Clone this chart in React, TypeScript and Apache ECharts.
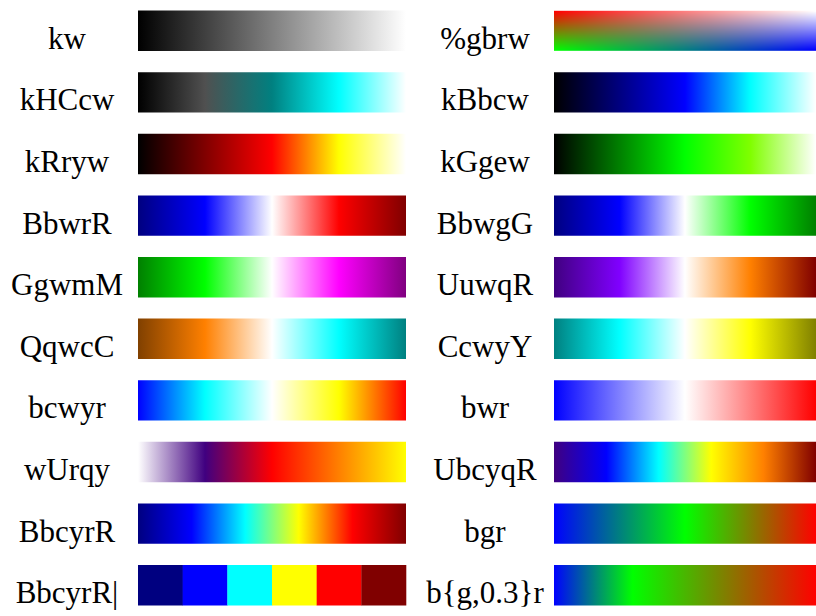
import React, { useEffect, useRef } from "react";
import * as echarts from "echarts";

// ---- category names (tick labels) ----
const leftNames = ["kw", "kHCcw", "kRryw", "BbwrR", "GgwmM", "QqwcC", "bcwyr", "wUrqy", "BbcyrR", "BbcyrR|"];
const rightNames = ["%gbrw", "kBbcw", "kGgew", "BbwgG", "UuwqR", "CcwyY", "bwr", "UbcyqR", "bgr", "b{g,0.3}r"];

// ---- colormap colour stops (left column) ----
const kw = ["#000000", "#ffffff"];
const kHCcw = ["#000000", "#505050", "#008080", "#00ffff", "#ffffff"];
const kRryw = ["#000000", "#800000", "#ff0000", "#ffff00", "#ffffff"];
const BbwrR = ["#000080", "#0000ff", "#ffffff", "#ff0000", "#800000"];
const GgwmM = ["#008000", "#00ff00", "#ffffff", "#ff00ff", "#800080"];
const QqwcC = ["#804000", "#ff8000", "#ffffff", "#00ffff", "#008080"];
const bcwyr = ["#0000ff", "#00ffff", "#ffffff", "#ffff00", "#ff0000"];
const wUrqy = ["#ffffff", "#400080", "#ff0000", "#ff8000", "#ffff00"];
const BbcyrR = ["#000080", "#0000ff", "#00ffff", "#ffff00", "#ff0000", "#800000"];
const BbcyrRDiscrete = ["#000080", "#0000ff", "#00ffff", "#ffff00", "#ff0000", "#800000"];

// ---- colormap colour stops (right column) ----
// corners of the 2-D map: top-left, top-right, bottom-left, bottom-right
const gbrwCorners = ["#ff0000", "#ffffff", "#00ff00", "#0000ff"];
const kBbcw = ["#000000", "#000080", "#0000ff", "#00ffff", "#ffffff"];
const kGgew = ["#000000", "#008000", "#00ff00", "#80ff00", "#ffffff"];
const BbwgG = ["#000080", "#0000ff", "#ffffff", "#00ff00", "#008000"];
const UuwqR = ["#400080", "#8000ff", "#ffffff", "#ff8000", "#800000"];
const CcwyY = ["#008080", "#00ffff", "#ffffff", "#ffff00", "#808000"];
const bwr = ["#0000ff", "#ffffff", "#ff0000"];
const UbcyqR = ["#400080", "#0000ff", "#00ffff", "#ffff00", "#ff8000", "#800000"];
const bgr = ["#0000ff", "#00ff00", "#ff0000"];
const bg03r = ["#0000ff", "#00ff00", "#ff0000"];
const bg03rPositions = [0, 0.3, 1];

type CMap = { colors: string[]; mode: "linear" | "discrete" | "bilinear"; positions?: number[] };

const leftMaps: CMap[] = [
  { colors: kw, mode: "linear" },
  { colors: kHCcw, mode: "linear" },
  { colors: kRryw, mode: "linear" },
  { colors: BbwrR, mode: "linear" },
  { colors: GgwmM, mode: "linear" },
  { colors: QqwcC, mode: "linear" },
  { colors: bcwyr, mode: "linear" },
  { colors: wUrqy, mode: "linear" },
  { colors: BbcyrR, mode: "linear" },
  { colors: BbcyrRDiscrete, mode: "discrete" },
];
const rightMaps: CMap[] = [
  { colors: gbrwCorners, mode: "bilinear" },
  { colors: kBbcw, mode: "linear" },
  { colors: kGgew, mode: "linear" },
  { colors: BbwgG, mode: "linear" },
  { colors: UuwqR, mode: "linear" },
  { colors: CcwyY, mode: "linear" },
  { colors: bwr, mode: "linear" },
  { colors: UbcyqR, mode: "linear" },
  { colors: bgr, mode: "linear" },
  { colors: bg03r, mode: "linear", positions: bg03rPositions },
];

// each bar spans the full 0..1 range of its colormap
const barStart = 0;
const barEnd = 1;

function hexToRgb(h: string): number[] {
  const v = parseInt(h.slice(1), 16);
  return [(v >> 16) & 255, (v >> 8) & 255, v & 255];
}

// renders a 2-D (bilinear) colormap into a bitmap, returned as a data URL
const bilinearCache: Record<string, string> = {};
function bilinearImage(corners: string[], W: number, H: number): string {
  const key = corners.join(",") + W + "x" + H;
  if (bilinearCache[key]) return bilinearCache[key];
  const [tl, tr, bl, br] = corners.map(hexToRgb);
  const cv = document.createElement("canvas");
  cv.width = W;
  cv.height = H;
  const ctx = cv.getContext("2d")!;
  const img = ctx.createImageData(W, H);
  for (let j = 0; j < H; j++) {
    const v = H > 1 ? j / (H - 1) : 0;
    for (let i = 0; i < W; i++) {
      const u = W > 1 ? i / (W - 1) : 0;
      const o = (j * W + i) * 4;
      for (let c = 0; c < 3; c++) {
        const top = tl[c] + (tr[c] - tl[c]) * u;
        const bot = bl[c] + (br[c] - bl[c]) * u;
        img.data[o + c] = Math.round(top + (bot - top) * v);
      }
      img.data[o + 3] = 255;
    }
  }
  ctx.putImageData(img, 0, 0);
  const url = cv.toDataURL("image/png");
  bilinearCache[key] = url;
  return url;
}

function makeRender(maps: CMap[]) {
  return (params: any, api: any) => {
    const ci = api.value(0) as number;
    const p0 = api.coord([api.value(1), ci]);
    const p1 = api.coord([api.value(2), ci]);
    const band = api.size([0, 1])[1];
    const h = band * 0.656;
    const x = p0[0];
    const w = p1[0] - p0[0];
    const y = p0[1] - h / 2;
    const m = maps[ci];
    const children: any[] = [];
    if (m.mode === "linear") {
      const n = m.colors.length;
      const stops = m.colors.map((c, i) => ({
        offset: m.positions ? m.positions[i] : i / (n - 1),
        color: c,
      }));
      children.push({
        type: "rect",
        shape: { x, y, width: w, height: h },
        style: { fill: { type: "linear", x: 0, y: 0, x2: 1, y2: 0, colorStops: stops } },
      });
    } else if (m.mode === "discrete") {
      const n = m.colors.length;
      m.colors.forEach((c, i) => {
        children.push({
          type: "rect",
          shape: { x: x + (w * i) / n, y, width: w / n + 0.3, height: h },
          style: { fill: c },
        });
      });
    } else {
      const W = Math.max(2, Math.round(w));
      const H = Math.max(2, Math.round(h));
      children.push({
        type: "image",
        style: { image: bilinearImage(m.colors, W, H), x, y, width: w, height: h },
      });
    }
    return { type: "group", children };
  };
}

export default function App() {
  const ref = useRef<HTMLDivElement>(null);
  useEffect(() => {
    if (!ref.current) return;
    const chart = echarts.init(ref.current, undefined, { renderer: "svg" });
    const gridTop = -1.75;
    const gridH = 625;
    chart.setOption({
      animation: false,
      backgroundColor: "#ffffff",
      grid: [
        { left: 138, top: gridTop, width: 268, height: gridH },
        { left: 554, top: gridTop, width: 268, height: gridH },
      ],
      xAxis: [0, 1].map((i) => ({
        type: "value",
        gridIndex: i,
        min: 0,
        max: 1,
        show: false,
      })),
      yAxis: [
        { type: "category", gridIndex: 0, inverse: true, data: leftNames, show: false },
        { type: "category", gridIndex: 1, inverse: true, data: rightNames, show: false },
      ],
      series: [
        {
          type: "custom",
          xAxisIndex: 0,
          yAxisIndex: 0,
          encode: { x: [1, 2], y: 0 },
          renderItem: makeRender(leftMaps),
          data: leftNames.map((_, i) => [i, barStart, barEnd]),
        },
        {
          type: "custom",
          xAxisIndex: 1,
          yAxisIndex: 1,
          encode: { x: [1, 2], y: 0 },
          renderItem: makeRender(rightMaps),
          data: rightNames.map((_, i) => [i, barStart, barEnd]),
        },
      ],
    });

    // category labels, placed through the axes' own scales
    const labels: any[] = [];
    const columns = [
      { names: leftNames, axis: 0, offset: 71 },
      { names: rightNames, axis: 1, offset: 69 },
    ];
    columns.forEach((col) => {
      const barLeft = chart.convertToPixel({ xAxisIndex: col.axis }, barStart) as number;
      col.names.forEach((name, i) => {
        const cy = chart.convertToPixel({ yAxisIndex: col.axis }, i) as number;
        labels.push({
          type: "text",
          x: barLeft - col.offset,
          y: cy + 7.5,
          style: {
            text: name,
            fontFamily: "Liberation Serif",
            fontSize: 31,
            fill: "#000",
            align: "center",
            verticalAlign: "middle",
          },
        });
      });
    });
    chart.setOption({ graphic: labels });

    return () => chart.dispose();
  }, []);
  return (
    <div
      ref={ref}
      style={{ position: "fixed", left: 0, top: 0, width: 816, height: 616, background: "#fff" }}
    />
  );
}
